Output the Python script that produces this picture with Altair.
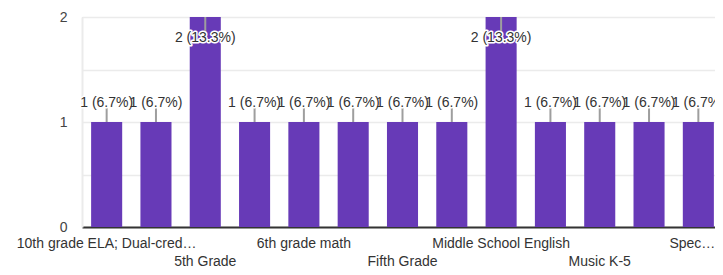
import altair as alt
import pandas as pd

categories = [
    "10th grade ELA; Dual-credit English",
    "4th Grade",
    "5th Grade",
    "5th grade science",
    "6th grade math",
    "7th grade ELA",
    "Fifth Grade",
    "High School Math",
    "Middle School English",
    "Middle School Science",
    "Music K-5",
    "Science 6-8",
    "Special Education",
]
counts = [1, 1, 2, 1, 1, 1, 1, 1, 2, 1, 1, 1, 1]
tick_text = [
    "10th grade ELA; Dual-cred…", "", "5th Grade", "", "6th grade math", "",
    "Fifth Grade", "", "Middle School English", "", "Music K-5", "", "Spec…",
]
tick_row = [1, 0, 2, 0, 1, 0, 2, 0, 1, 0, 2, 0, 1]

total = sum(counts)
df = pd.DataFrame({
    "category": categories,
    "count": counts,
    "label": [f"{c} ({c / total * 100:.1f}%)" for c in counts],
    "tick": tick_text,
    "row": tick_row,
    "idx": list(range(len(categories))),
})
last_idx = len(categories) - 1

W, H = 641, 210
FONT = "Liberation Sans"
PURPLE = "#673ab7"

x = alt.X("category:N", sort=categories, title=None,
          scale=alt.Scale(paddingInner=0.37, paddingOuter=0.185),
          axis=alt.Axis(labels=False, ticks=False, domainColor="#333333", domainWidth=2))
y = alt.Y("count:Q", title=None, scale=alt.Scale(domain=[0, 2]),
          axis=alt.Axis(values=[0, 0.5, 1, 1.5, 2], ticks=False, labelOverlap=False,
                        labelExpr="datum.value % 1 == 0 ? format(datum.value, 'd') : ''",
                        labelPadding=15, labelFontSize=14, labelColor="#444444",
                        labelFont=FONT, gridColor="#ebebeb", gridWidth=1.5,
                        domainColor="#ebebeb", domainWidth=2))

base = alt.Chart(df).transform_joinaggregate(maxc="max(count)")

bars = base.mark_bar(color=PURPLE).encode(x=x, y=y)

low = base.transform_filter("datum.count < datum.maxc")
high = base.transform_filter("datum.count >= datum.maxc")

lead_low = low.mark_rule(color="#9e9e9e", strokeWidth=2, yOffset=-14).encode(
    x="category:N", y="count:Q", y2="count:Q")
lead_high = high.mark_rule(color="#9e9e9e", strokeWidth=2, yOffset=15).encode(
    x="category:N", y="count:Q", y2="count:Q")

def labels(src, dy):
    halo = src.mark_text(font=FONT, fontSize=14, dy=dy, fill="white", stroke="white",
                         strokeWidth=3, strokeJoin="round").encode(
        x="category:N", y="count:Q", text="label:N")
    txt = src.mark_text(font=FONT, fontSize=14, dy=dy, color="#333333").encode(
        x="category:N", y="count:Q", text="label:N")
    return halo + txt

row1 = base.transform_filter(f"datum.row == 1 && datum.idx < {last_idx}").mark_text(
    font=FONT, fontSize=14, color="#333333").encode(
    x="category:N", y=alt.value(H + 17), text="tick:N")
row1_last = base.transform_filter(f"datum.row == 1 && datum.idx == {last_idx}").mark_text(
    font=FONT, fontSize=14, color="#333333", dx=-6).encode(
    x="category:N", y=alt.value(H + 17), text="tick:N")
row2 = base.transform_filter("datum.row == 2").mark_text(
    font=FONT, fontSize=14, color="#333333").encode(
    x="category:N", y=alt.value(H + 35), text="tick:N")

chart = alt.layer(
    bars, lead_low, lead_high, labels(low, -19), labels(high, 21), row1, row1_last, row2
).properties(
    width=W, height=H,
    autosize=alt.AutoSizeParams(type="none"),
    padding={"left": 74, "top": 9, "right": -8, "bottom": 46},
).configure_view(stroke=None).configure(background="white")

chart.save("out.html", embed_options={"renderer": "svg", "actions": False})
